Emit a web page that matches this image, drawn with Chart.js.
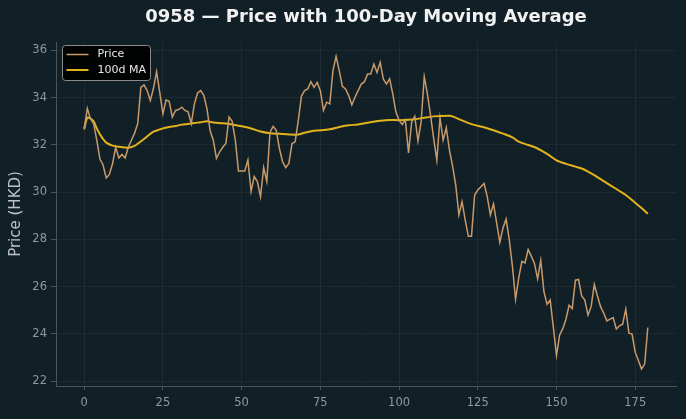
<!DOCTYPE html>
<html>
<head>
<meta charset="utf-8">
<script src="https://cdn.jsdelivr.net/npm/chart.js@4.4.1/dist/chart.umd.min.js"></script>
<style>
  html, body { margin: 0; padding: 0; background: #111f27; }
  canvas { display: block; }
</style>
</head>
<body>
<canvas id="maChart" width="686" height="419"></canvas>
<script>
// closing prices, one per trading day (day 0..179)
const prices = [
  32.65, 33.55, 33.1, 32.9, 32.2, 31.4, 31.15, 30.6, 30.75, 31.2,
  31.9, 31.45, 31.6, 31.45, 31.9, 32.2, 32.5, 32.9, 34.44, 34.54,
  34.3, 33.88, 34.4, 35.1, 34.23, 33.32, 33.9, 33.85, 33.18, 33.46,
  33.5, 33.6, 33.46, 33.4, 32.9, 33.74, 34.2, 34.3, 34.1, 33.53,
  32.6, 32.2, 31.43, 31.7, 31.9, 32.06, 33.18, 33.0, 32.2, 30.9,
  30.9, 30.9, 31.36, 30.03, 30.66, 30.45, 29.81, 31.04, 30.45, 32.53,
  32.79, 32.62, 31.85, 31.29, 31.04, 31.22, 32.06, 32.13, 33.04, 34.07,
  34.3, 34.37, 34.68, 34.44, 34.65, 34.3, 33.46, 33.81, 33.74, 35.15,
  35.75, 35.15, 34.48, 34.37, 34.09, 33.7, 34.02, 34.3, 34.58, 34.68,
  35.0, 35.0, 35.43, 35.07, 35.5, 34.79, 34.58, 34.8, 34.16, 33.39,
  33.04, 32.87, 33.06, 31.66, 32.97, 33.21, 32.17, 32.97, 34.89, 34.16,
  33.25, 32.27, 31.36, 33.15, 32.2, 32.73, 31.78, 31.1, 30.3, 29.04,
  29.6, 28.83, 28.13, 28.13, 29.88, 30.09, 30.23, 30.37, 29.81, 29.04,
  29.5, 28.69, 27.88, 28.48, 28.86, 27.99, 26.86, 25.46, 26.37, 27.07,
  27.0, 27.57, 27.29, 26.98, 26.33, 27.11, 25.8, 25.25, 25.43, 24.27,
  23.08, 23.95, 24.22, 24.62, 25.21, 25.07, 26.27, 26.3, 25.6, 25.43,
  24.79, 25.15, 26.09, 25.6, 25.15, 24.87, 24.55, 24.62, 24.69, 24.2,
  24.34, 24.41, 25.04, 24.03, 23.99, 23.22, 22.87, 22.51, 22.72, 24.27
];

// 100-day moving average at these days
const maDays = [
  0, 1, 2, 3, 4, 5, 6, 7, 9, 11, 14, 16, 17, 19, 20, 22, 25, 27, 29, 31,
  33, 35, 37, 39, 41, 44, 46, 48, 50, 53, 56, 59, 62, 65, 68, 70, 73, 78,
  81, 84, 87, 90, 94, 97, 100, 104, 107, 111, 116, 117, 120, 123, 127,
  130, 133, 136, 138, 141, 144, 147, 150, 153, 156, 158, 160, 162, 164,
  167, 170, 172, 175, 177, 179
];
const maValues = [
  32.69, 33.15, 33.12, 33.0, 32.7, 32.45, 32.25, 32.1, 31.97, 31.92,
  31.88, 31.96, 32.05, 32.25, 32.36, 32.56, 32.7, 32.76, 32.8, 32.86,
  32.89, 32.93, 32.96, 33.0, 32.95, 32.92, 32.89, 32.84, 32.79, 32.7,
  32.57, 32.5, 32.47, 32.44, 32.44, 32.52, 32.6, 32.66, 32.76, 32.83,
  32.87, 32.94, 33.02, 33.06, 33.05, 33.08, 33.13, 33.21, 33.24, 33.21,
  33.04, 32.88, 32.75, 32.62, 32.48, 32.32, 32.14, 32.0, 31.85, 31.62,
  31.35, 31.2, 31.08, 31.0, 30.87, 30.72, 30.55, 30.3, 30.05, 29.88,
  29.55, 29.33, 29.08
];

const xTicks = [0, 25, 50, 75, 100, 125, 150, 175];
const yTicks = [22, 24, 26, 28, 30, 32, 34, 36];

const BG = '#111f27';
const GRID = 'rgba(255,255,255,0.05)';
const AXIS = '#4a5558';
const TICK_TXT = '#8f999c';

// legend box like the matplotlib one (top-left, inside plot)
const boxLegend = {
  id: 'boxLegend',
  afterDraw(chart) {
    const ctx = chart.ctx;
    const a = chart.chartArea;
    const x = a.left + 6.5, y = a.top + 3.5, w = 88, h = 35;
    ctx.save();
    ctx.beginPath();
    ctx.roundRect(x, y, w, h, 3);
    ctx.fillStyle = 'rgba(0,0,0,0.9)';
    ctx.fill();
    ctx.strokeStyle = '#8a8a8a';
    ctx.lineWidth = 1;
    ctx.stroke();
    ctx.font = '11px "DejaVu Sans"';
    ctx.textBaseline = 'middle';
    chart.data.datasets.forEach((ds, i) => {
      const ly = y + 9 + i * 15.5;
      ctx.beginPath();
      ctx.moveTo(x + 4, ly);
      ctx.lineTo(x + 26, ly);
      ctx.strokeStyle = ds.borderColor;
      ctx.lineWidth = ds.borderWidth;
      ctx.stroke();
      ctx.fillStyle = '#e8e8e8';
      ctx.fillText(ds.label, x + 35, ly);
    });
    ctx.restore();
  }
};

const bgPlugin = {
  id: 'bg',
  beforeDraw(chart) {
    const ctx = chart.ctx;
    ctx.save();
    ctx.fillStyle = BG;
    ctx.fillRect(0, 0, chart.width, chart.height);
    ctx.restore();
  }
};

const ctx = document.getElementById('maChart').getContext('2d');
new Chart(ctx, {
  type: 'line',
  data: {
    datasets: [{
      label: 'Price',
      data: prices.map((p, i) => ({ x: i, y: p })),
      borderColor: '#c89a6a',
      borderWidth: 1.5,
      pointRadius: 0,
      tension: 0
    }, {
      label: '100d MA',
      data: maDays.map((d, i) => ({ x: d, y: maValues[i] })),
      borderColor: '#e3b31b',
      borderWidth: 2,
      pointRadius: 0,
      tension: 0.3
    }]
  },
  options: {
    responsive: false,
    devicePixelRatio: 1,
    animation: false,
    layout: { padding: { left: 0, right: 10, top: 0, bottom: 0 } },
    plugins: {
      legend: { display: false },
      tooltip: { enabled: false },
      title: {
        display: true,
        fullSize: false,
        text: '0958 — Price with 100-Day Moving Average',
        color: '#f2f2f2',
        font: { family: 'DejaVu Sans', size: 18, weight: 'bold', lineHeight: 1.2 },
        padding: { top: 7, bottom: 13.4 }
      }
    },
    scales: {
      x: {
        type: 'linear',
        min: -8.95,
        max: 187.95,
        afterBuildTicks: s => { s.ticks = xTicks.map(v => ({ value: v })); },
        afterFit: s => { s.height = 33; },
        ticks: { color: TICK_TXT, font: { family: 'DejaVu Sans', size: 11.5 }, padding: 6, maxRotation: 0 },
        grid: { color: GRID, tickColor: AXIS, tickLength: 4 },
        border: { display: true, color: AXIS, width: 1 }
      },
      y: {
        type: 'linear',
        min: 21.79,
        max: 36.36,
        afterBuildTicks: s => { s.ticks = yTicks.map(v => ({ value: v })); },
        afterFit: s => { s.width = 56; },
        ticks: { color: TICK_TXT, font: { family: 'DejaVu Sans', size: 11.5 }, padding: 4 },
        grid: { color: GRID, tickColor: AXIS, tickLength: 5 },
        border: { display: true, color: AXIS, width: 1 },
        title: {
          display: true,
          text: 'Price (HKD)',
          color: '#bcc2c4',
          font: { family: 'DejaVu Sans', size: 15, lineHeight: 1.2 },
          padding: { top: 7, bottom: 0 }
        }
      }
    }
  },
  plugins: [bgPlugin, boxLegend]
});
</script>
</body>
</html>
